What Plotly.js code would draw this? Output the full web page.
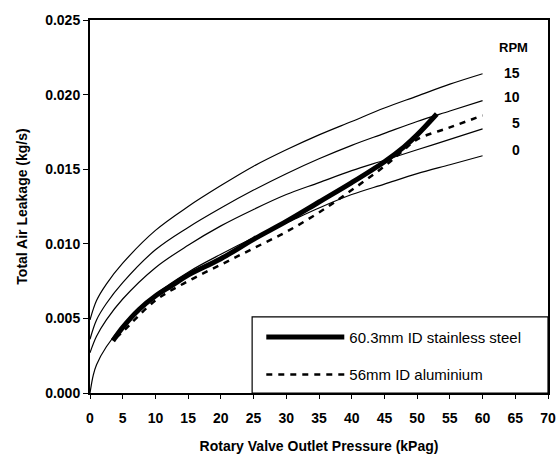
<!DOCTYPE html>
<html>
<head>
<meta charset="utf-8">
<script src="https://cdn.plot.ly/plotly-3.0.1.min.js"></script>
<style>html,body{margin:0;padding:0;background:#fff;}#chart{width:556px;height:457px;}</style>
</head>
<body>
<div id="chart"></div>
<script>
// RPM family curves (thin lines)
const rpmX   = [0, 1, 2.5, 5, 10, 15, 20, 25, 30, 35, 40, 45, 50, 55, 60];
const rpm15  = [0.0049, 0.0062, 0.0073, 0.0087, 0.0109, 0.0125, 0.0139, 0.0152, 0.0163, 0.0173, 0.0182, 0.0191, 0.0199, 0.0207, 0.0214];
const rpm10  = [0.0036, 0.0049, 0.0060, 0.0074, 0.0096, 0.0111, 0.0124, 0.0136, 0.0147, 0.0157, 0.0166, 0.0174, 0.0182, 0.0189, 0.0196];
const rpm5   = [0.0027, 0.0038, 0.0049, 0.0063, 0.0084, 0.0099, 0.0112, 0.0123, 0.0133, 0.0141, 0.0149, 0.0156, 0.0163, 0.0170, 0.0177];
const rpm0X  = [0, 0.5, 1, 2.5, 5, 10, 15, 20, 25, 30, 35, 40, 45, 50, 55, 60];
const rpm0   = [0, 0.0012, 0.0019, 0.0031, 0.0045, 0.0066, 0.0081, 0.0093, 0.0104, 0.0114, 0.0124, 0.0133, 0.0140, 0.0147, 0.0153, 0.0159];
const rpmLabels = ["15", "10", "5", "0"];
const rpmLabelY = [0.02144, 0.01983, 0.01809, 0.01628];

// Measured leakage
const steelX = [3.5, 5, 7.5, 10, 12.5, 15, 20, 25, 30, 35, 40, 45, 48, 50, 53];
const steelY = [0.0035, 0.0044, 0.0056, 0.0065, 0.0072, 0.0079, 0.0090, 0.0103, 0.0115, 0.0128, 0.0141, 0.0155, 0.0165, 0.0173, 0.0187];
const alumX  = [4, 5, 10, 15, 20, 25, 30, 35, 40, 45, 48, 50, 55, 60];
const alumY  = [0.0037, 0.0041, 0.0062, 0.0075, 0.0086, 0.0097, 0.0108, 0.0121, 0.0136, 0.0152, 0.0163, 0.0170, 0.0178, 0.0186];

const font = {family: "Liberation Sans, Arial, sans-serif", color: "#000"};
const thin = {color: "#000", width: 1.2, shape: "spline"};

const traces = [
  {x: rpmX, y: rpm15, mode: "lines", line: thin, showlegend: false, hoverinfo: "skip"},
  {x: rpmX, y: rpm10, mode: "lines", line: thin, showlegend: false, hoverinfo: "skip"},
  {x: rpmX, y: rpm5,  mode: "lines", line: thin, showlegend: false, hoverinfo: "skip"},
  {x: rpm0X, y: rpm0, mode: "lines", line: thin, showlegend: false, hoverinfo: "skip"},
  {x: steelX, y: steelY, mode: "lines", name: "60.3mm ID stainless steel", legendgroup: "a",
   line: {color: "#000", width: 5, shape: "spline"}},
  {x: alumX, y: alumY, mode: "lines", name: "56mm ID aluminium", legendgroup: "b",
   line: {color: "#000", width: 2.5, dash: "6px,6px", shape: "spline"}}
];

const annotations = [{x: 64.8, y: 0.02319, text: "RPM", showarrow: false, xanchor: "center", yanchor: "middle",
  font: Object.assign({size: 13, weight: "bold"}, font)}];
rpmLabels.forEach((t, i) => annotations.push({x: 66.0, y: rpmLabelY[i], text: t, showarrow: false,
  xanchor: "right", yanchor: "middle", font: Object.assign({size: 14, weight: "bold"}, font)}));

const layout = {
  width: 556, height: 457,
  margin: {l: 90, r: 8, t: 20, b: 64},
  paper_bgcolor: "#fff", plot_bgcolor: "#fff",
  showlegend: true,
  legend: {x: 0.374, y: 0.194, xanchor: "left", yanchor: "top", borderwidth: 0,
    bgcolor: "rgba(0,0,0,0)", itemwidth: 78, tracegroupgap: 15, traceorder: "grouped",
    font: Object.assign({size: 15}, font)},
  shapes: [{type: "rect", xref: "paper", yref: "paper", x0: 0.354, x1: 1, y0: 0, y1: 0.204,
    line: {color: "#000", width: 1.2}, fillcolor: "#fff", layer: "below"}],
  xaxis: {range: [0, 70], tickvals: [0,5,10,15,20,25,30,35,40,45,50,55,60,65,70],
    ticks: "outside", ticklen: 4, tickwidth: 1, tickcolor: "#000", ticklabelstandoff: 7,
    showline: true, linecolor: "#000", linewidth: 2, mirror: true, showgrid: false, zeroline: false,
    tickfont: Object.assign({size: 14, weight: "bold"}, font),
    title: {text: "Rotary Valve Outlet Pressure (kPag)", font: Object.assign({size: 14, weight: "bold"}, font), standoff: 16}},
  yaxis: {range: [0, 0.025], tickvals: [0, 0.005, 0.01, 0.015, 0.02, 0.025], tickformat: ".3f",
    ticks: "outside", ticklen: 5, tickwidth: 1, tickcolor: "#000",
    showline: true, linecolor: "#000", linewidth: 2, mirror: true, showgrid: false, zeroline: false,
    tickfont: Object.assign({size: 14, weight: "bold"}, font),
    title: {text: "Total Air Leakage (kg/s)", font: Object.assign({size: 14, weight: "bold"}, font), standoff: 14}},
  annotations: annotations
};

Plotly.newPlot("chart", traces, layout, {displayModeBar: false, staticPlot: true});
</script>
</body>
</html>
